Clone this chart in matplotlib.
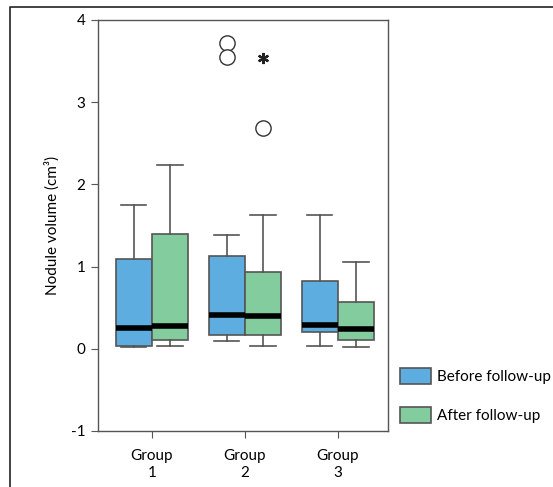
import matplotlib.pyplot as plt
from matplotlib.patches import Patch
from matplotlib.lines import Line2D

plt.rcParams['font.family'] = ['Lato', 'DejaVu Sans']

# data
groups = ['Group\n1', 'Group\n2', 'Group\n3']
series = ['Before follow-up', 'After follow-up']
colors = ['#5DADE0', '#82CC9E']

# per series, per group: (whislo, q1, med, q3, whishi)
before = [(0.016, 0.04, 0.258, 1.097, 1.746),
          (0.093, 0.173, 0.415, 1.125, 1.387),
          (0.036, 0.21, 0.29, 0.823, 1.63)]
after = [(0.04, 0.109, 0.274, 1.40, 2.24),
         (0.04, 0.173, 0.395, 0.935, 1.63),
         (0.016, 0.113, 0.242, 0.573, 1.06)]

# outliers (circles) and extremes (asterisk)
before_outliers = [[], [3.72, 3.55], []]
after_outliers = [[], [2.69], []]
after_extremes = [[], [3.54], []]

fig = plt.figure(figsize=(5.53, 4.87), dpi=100)
ax = fig.add_axes([0.1772, 0.115, 0.5244, 0.844])

edge = '#555555'
width = 0.39
for s, (vals, outl, col) in enumerate([(before, before_outliers, colors[0]),
                                       (after, after_outliers, colors[1])]):
    stats = []
    for v, o in zip(vals, outl):
        stats.append({'whislo': v[0], 'q1': v[1], 'med': v[2], 'q3': v[3],
                      'whishi': v[4], 'fliers': o})
    pos = [i + 1 + (s - 0.5) * width for i in range(3)]
    ax.bxp(stats, positions=pos, widths=width, capwidths=width * 0.7,
           patch_artist=True, showfliers=True,
           boxprops=dict(facecolor=col, edgecolor=edge, linewidth=1.2),
           medianprops=dict(color='black', linewidth=4, solid_capstyle='butt'),
           whiskerprops=dict(color=edge, linewidth=1.2),
           capprops=dict(color=edge, linewidth=1.2),
           flierprops=dict(marker='o', markersize=11, markerfacecolor='white',
                           markeredgecolor='#333333', markeredgewidth=1.0))

# extreme value drawn as asterisk
for i, ex in enumerate(after_extremes):
    for y in ex:
        ax.plot(i + 1 + 0.5 * width, y, marker=(6, 2, 0), markersize=8,
                color='#222222', markeredgewidth=1.6)

ax.set_xlim(0.42, 3.54)
ax.set_ylim(-1, 4)
ax.set_xticks([1, 2, 3])
ax.set_xticklabels(groups, fontsize=11, linespacing=1.3)
ax.set_yticks([-1, 0, 1, 2, 3, 4])
ax.set_yticklabels(['-1', '0', '1', '2', '3', '4'], fontsize=11)
ax.tick_params(length=5, color=edge, direction='out', pad=4)
ax.tick_params(axis='x', pad=8)
for sp in ax.spines.values():
    sp.set_color(edge)
    sp.set_linewidth(1.0)
ax.set_ylabel('Nodule volume (cm³)', fontsize=11, labelpad=8)

handles = [Patch(facecolor=colors[0], edgecolor=edge, linewidth=1.2),
           Patch(facecolor=colors[1], edgecolor=edge, linewidth=1.2)]
fig.legend(handles, series, loc='upper left',
           bbox_to_anchor=(400 / 553, 1 - 368 / 487), frameon=False,
           fontsize=11, handlelength=2.0, handleheight=1.25,
           handletextpad=0.4, labelspacing=1.5, borderpad=0, borderaxespad=0)

# outer frame
fig.add_artist(Line2D([10 / 553, 10 / 553, 1.0], [0.0, 1 - 7 / 487, 1 - 7 / 487],
                      transform=fig.transFigure, color='#222222', linewidth=1.2))

fig.savefig('out.png', dpi=100)
